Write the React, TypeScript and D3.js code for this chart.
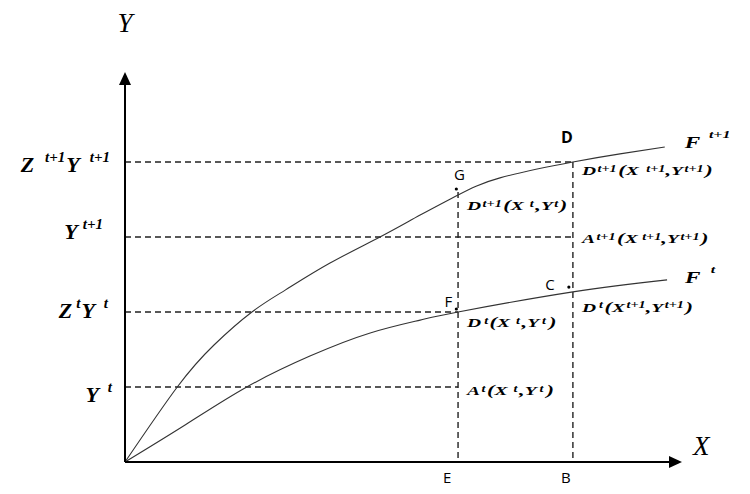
import React from "react";
import * as d3 from "d3";

const W = 750;
const H = 494;

// production frontier F^{t+1}
const upperX = [0, 0.91, 1.55, 2.21, 2.79, 3.57, 4.44, 5.14, 5.8, 6.53, 7.8, 8.62, 9.4];
const upperY = [0, 2.5, 3.9, 5.0, 5.73, 6.63, 7.5, 8.23, 8.9, 9.47, 10.0, 10.27, 10.5];
// production frontier F^t
const lowerX = [0, 1.06, 2.12, 3.22, 4.27, 5.14, 5.8, 7.8, 9.44];
const lowerY = [0, 1.25, 2.5, 3.53, 4.3, 4.73, 5.0, 5.67, 6.07];

// input levels on X
const xTicks = [5.8, 7.8];
const xTickNames = ["E", "B"];
const xTickTops = [9.0, 10.0];

// output levels on Y
const yLevels = [2.5, 5, 7.5, 10];
const yLevelEnds = [5.8, 5.8, 7.8, 7.8];

// text part: [text, kind (n = normal, s = superscript, p = parenthesis), dx]
type Part = [string, string, number?];
const yLevelLabels: Part[][] = [
  [["Y", "n"], ["t", "s", 9]],
  [["Z", "n"], ["t", "s", 4], ["Y", "n", 1], ["t", "s", 9]],
  [["Y", "n"], ["t+1", "s", 5]],
  [["Z", "n"], ["t+1", "s", 11], ["Y", "n", 1], ["t+1", "s", 10]],
];
const yLabelDy = [15, 6, 2, 10];
const yLabelGap = [13, 17, 22, 15];

// marked points
const pointNames = ["G", "F", "C", "D"];
const pointX = [5.77, 5.77, 7.73, 7.8];
const pointY = [9.1, 5.1, 5.83, 10.0];
const pointDots = [true, true, true, false];
const pointDx = [3, -8, -19, -6];
const pointDy = [-9, -2, 3, -19];

// point descriptions
const descX = [7.8, 5.8, 7.8, 7.8, 5.8, 5.8];
const descY = [10.0, 8.9, 7.5, 5.67, 5.0, 2.5];
const descDy = [13, 15, 6, 20, 15, 8];
const descParts: Part[][] = [
  [["D", "n"], ["t+1", "s", 1], ["(", "p", 1], ["X", "n"], ["t+1", "s", 5], [",", "p"], ["Y", "n"], ["t+1", "s", 1], [")", "p", 1]],
  [["D", "n"], ["t+1", "s", 1], ["(", "p", 1], ["X", "n"], ["t", "s", 4], [",", "p", 1], ["Y", "n"], ["t", "s", 1], [")", "p", 1]],
  [["A", "n"], ["t+1", "s", 1], ["(", "p", 1], ["X", "n"], ["t+1", "s", 3], [",", "p"], ["Y", "n"], ["t+1", "s", 1], [")", "p", 1]],
  [["D", "n"], ["t", "s", 2], ["(", "p", 1], ["X", "n"], ["t+1", "s", 1], [",", "p"], ["Y", "n"], ["t+1", "s", 1], [")", "p", 1]],
  [["D", "n"], ["t", "s", 2], ["(", "p", 1], ["X", "n"], ["t", "s", 4], [",", "p", 1], ["Y", "n"], ["t", "s", 2], [")", "p", 2]],
  [["A", "n"], ["t", "s", 1], ["(", "p", 1], ["X", "n"], ["t", "s", 4], [",", "p", 1], ["Y", "n"], ["t", "s", 2], [")", "p", 2]],
];

const curveNames: Part[][] = [
  [["F", "n"], ["t+1", "s", 6]],
  [["F", "n"], ["t", "s", 7]],
];

const serif = "'Liberation Serif', 'Times New Roman', serif";
const sans = "'Open Sans', 'Liberation Sans', sans-serif";

function RichText(props: {
  x: number;
  y: number;
  parts: Part[];
  size: number;
  supSize: number;
  parenSize?: number;
  anchor?: string;
  rise: number;
  sx?: number;
}) {
  const { x, y, parts, size, supSize, anchor = "start", rise, sx = 1 } = props;
  const parenSize = props.parenSize ?? size;
  let prevSup = false;
  return (
    <g transform={`translate(${x},${y}) scale(${sx},1)`}>
      <text
        x={0}
        y={0}
        fontFamily={serif}
        fontWeight="bold"
        fontStyle="italic"
        textAnchor={anchor}
        fill="#000"
      >
        {parts.map(([s, kind, dx], i) => {
          const sup = kind === "s";
          let dy = 0;
          if (sup && !prevSup) dy = -rise;
          if (!sup && prevSup) dy = rise;
          prevSup = sup;
          const fs = sup ? supSize : kind === "p" ? parenSize : size;
          return (
            <tspan
              key={i}
              dx={dx ?? 0}
              dy={dy}
              fontSize={fs}
              fontStyle="italic"
              fontWeight="bold"
            >
              {s}
            </tspan>
          );
        })}
      </text>
    </g>
  );
}

export default function App() {
  const x = d3.scaleLinear().domain([0, 9.7]).range([125, 682]);
  const y = d3.scaleLinear().domain([0, 13]).range([462, 72]);

  const line = d3
    .line<[number, number]>()
    .x((d) => x(d[0]))
    .y((d) => y(d[1]))
    .curve(d3.curveNatural);

  const upper = upperX.map((v, i) => [v, upperY[i]] as [number, number]);
  const lower = lowerX.map((v, i) => [v, lowerY[i]] as [number, number]);

  const x0 = x(0);
  const y0 = y(0);
  const yTop = y(13);
  const xEnd = x(9.7);
  const dash = "6,4";

  return (
    <svg
      width={W}
      height={H}
      style={{ position: "absolute", left: 0, top: 0, background: "#fff" }}
    >
      {/* dashed guide lines */}
      <g stroke="#222" strokeWidth={1.4} strokeDasharray={dash} fill="none">
        {yLevels.map((v, i) => (
          <line key={"h" + i} x1={x0} x2={x(yLevelEnds[i])} y1={y(v)} y2={y(v)} />
        ))}
        {xTicks.map((v, i) => (
          <line key={"v" + i} x1={x(v)} x2={x(v)} y1={y(xTickTops[i])} y2={y0} />
        ))}
      </g>

      {/* frontiers */}
      <path d={line(upper) ?? ""} fill="none" stroke="#333" strokeWidth={1.1} />
      <path d={line(lower) ?? ""} fill="none" stroke="#333" strokeWidth={1.1} />

      {/* axes */}
      <g stroke="#000" strokeWidth={2}>
        <line x1={x0} x2={x0} y1={y0} y2={yTop + 10} />
        <line x1={x0} x2={xEnd - 10} y1={y0} y2={y0} />
      </g>
      <polygon
        points={`${x0},${yTop} ${x0 - 6},${yTop + 13} ${x0 + 6},${yTop + 13}`}
        fill="#000"
      />
      <polygon
        points={`${xEnd},${y0} ${xEnd - 13},${y0 - 6} ${xEnd - 13},${y0 + 6}`}
        fill="#000"
      />
      <text x={x0} y={yTop - 40} fontFamily={serif} fontStyle="italic" fontSize={27} textAnchor="middle">
        Y
      </text>
      <text x={xEnd + 11} y={y0 - 7} fontFamily={serif} fontStyle="italic" fontSize={27}>
        X
      </text>

      {/* Y level labels */}
      {yLevels.map((v, i) => (
        <RichText
          key={"yl" + i}
          x={x0 - yLabelGap[i]}
          y={y(v) + yLabelDy[i]}
          parts={yLevelLabels[i]}
          size={22}
          supSize={15}
          anchor="end"
          rise={10}
        />
      ))}

      {/* X tick names */}
      {xTicks.map((v, i) => (
        <text
          key={"xt" + i}
          x={x(v) - (i === 0 ? 11 : 7)}
          y={y0 + 21}
          fontFamily={sans}
          fontSize={15}
          textAnchor="middle"
        >
          {xTickNames[i]}
        </text>
      ))}

      {/* points */}
      {pointNames.map((n, i) => (
        <g key={"p" + i}>
          {pointDots[i] && <circle cx={x(pointX[i])} cy={y(pointY[i])} r={1.6} fill="#000" />}
          <text
            x={x(pointX[i]) + pointDx[i]}
            y={y(pointY[i]) + pointDy[i]}
            fontFamily={sans}
            fontSize={i === 3 ? 16 : 15}
            fontWeight={i === 3 ? "bold" : "normal"}
            textAnchor="middle"
          >
            {n}
          </text>
        </g>
      ))}

      {/* point descriptions */}
      {descParts.map((p, i) => (
        <RichText
          key={"d" + i}
          x={x(descX[i]) + 9}
          y={y(descY[i]) + descDy[i]}
          parts={p}
          size={13}
          supSize={9.5}
          parenSize={15}
          rise={3.5}
          sx={1.5}
        />
      ))}

      {/* curve names */}
      <RichText
        x={x(upperX[upperX.length - 1]) + 20}
        y={y(upperY[upperY.length - 1]) + 1}
        parts={curveNames[0]}
        size={16}
        supSize={11}
        rise={10}
        sx={1.45}
      />
      <RichText
        x={x(lowerX[lowerX.length - 1]) + 18}
        y={y(lowerY[lowerY.length - 1]) + 3}
        parts={curveNames[1]}
        size={16}
        supSize={11}
        rise={10}
        sx={1.45}
      />
    </svg>
  );
}
